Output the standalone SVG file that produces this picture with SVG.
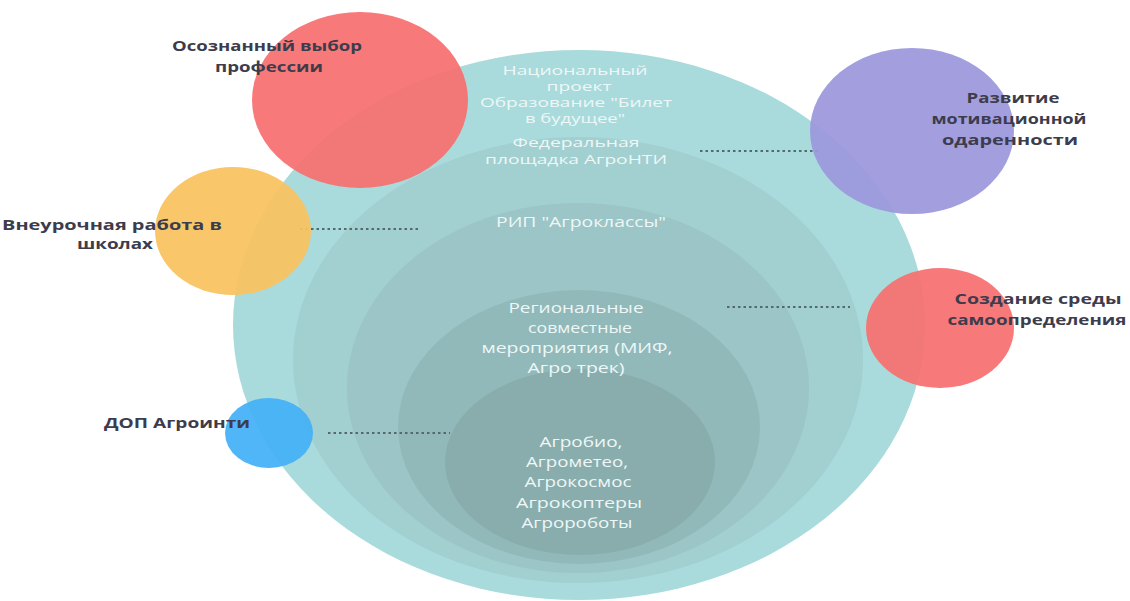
<svg xmlns="http://www.w3.org/2000/svg" width="1130" height="601" viewBox="0 0 1130 601">
<style>
.lbl{font-family:"Open Sans","Noto Sans","Liberation Sans",sans-serif;font-weight:700;font-size:14px;fill:#3c3c4c;text-anchor:middle}
.in{font-family:"Open Sans","Noto Sans","Liberation Sans",sans-serif;font-size:14px;fill:#eef7f7;text-anchor:middle}
.in13{font-size:12.5px}
.in15{font-size:15px}
.dot{fill:none;stroke:#55696a;stroke-width:2;stroke-dasharray:2.5 3}
</style>
<rect width="1130" height="601" fill="#ffffff"/>
<g id="layers">
<ellipse id="layer1" cx="579" cy="325" rx="346" ry="275" fill="#a9dbdc"/>
<ellipse id="layer2" cx="578" cy="360" rx="285" ry="223" fill="#a2cfd0"/>
<ellipse id="layer3" cx="578" cy="388" rx="231" ry="185" fill="#9bc5c6"/>
<ellipse id="layer4" cx="579" cy="427" rx="181" ry="137" fill="#92b9ba"/>
<ellipse id="layer5" cx="580" cy="462" rx="135" ry="93" fill="#89adad"/>
</g>
<g id="layer-texts">
<text class="in in13" x="575" y="75" textLength="145" lengthAdjust="spacingAndGlyphs">Национальный</text>
<text class="in in13" x="579" y="91" textLength="65" lengthAdjust="spacingAndGlyphs">проект</text>
<text class="in in13" x="576" y="107" textLength="192" lengthAdjust="spacingAndGlyphs">Образование "Билет</text>
<text class="in in13" x="575" y="123" textLength="100" lengthAdjust="spacingAndGlyphs">в будущее"</text>
<text class="in in13" x="576" y="147" textLength="127" lengthAdjust="spacingAndGlyphs">Федеральная</text>
<text class="in in13" x="576" y="164" textLength="182" lengthAdjust="spacingAndGlyphs">площадка АгроНТИ</text>
<text class="in" x="581" y="227" textLength="170" lengthAdjust="spacingAndGlyphs">РИП "Агроклассы"</text>
<text class="in in15" x="576" y="313" textLength="135" lengthAdjust="spacingAndGlyphs">Региональные</text>
<text class="in in15" x="580" y="333" textLength="104" lengthAdjust="spacingAndGlyphs">совместные</text>
<text class="in in15" x="577" y="353" textLength="191" lengthAdjust="spacingAndGlyphs">мероприятия (МИФ,</text>
<text class="in in15" x="576" y="373" textLength="97" lengthAdjust="spacingAndGlyphs">Агро трек)</text>
<text class="in in15" x="581" y="447" textLength="83" lengthAdjust="spacingAndGlyphs">Агробио,</text>
<text class="in in15" x="577" y="467" textLength="102" lengthAdjust="spacingAndGlyphs">Агрометео,</text>
<text class="in in15" x="578" y="487" textLength="107" lengthAdjust="spacingAndGlyphs">Агрокосмос</text>
<text class="in in15" x="579" y="508" textLength="126" lengthAdjust="spacingAndGlyphs">Агрокоптеры</text>
<text class="in in15" x="577" y="528" textLength="111" lengthAdjust="spacingAndGlyphs">Агророботы</text>
</g>
<g id="connectors">
<line class="dot" x1="700" y1="151" x2="818" y2="151"/>
<line class="dot" x1="300" y1="229" x2="420" y2="229"/>
<line class="dot" x1="727" y1="307" x2="850" y2="307"/>
<line class="dot" x1="328" y1="433" x2="450" y2="433"/>
</g>
<g id="node-vybor">
<ellipse cx="360" cy="100" rx="108" ry="88" fill="#f86f6f" fill-opacity="0.93"/>
<text class="lbl" x="267" y="51" textLength="190" lengthAdjust="spacingAndGlyphs">Осознанный выбор</text>
<text class="lbl" x="269" y="72" textLength="108" lengthAdjust="spacingAndGlyphs">профессии</text>
</g>
<g id="node-vneurochnaya">
<ellipse cx="233" cy="231" rx="78" ry="64" fill="#f9c35f" fill-opacity="0.93"/>
<text class="lbl" x="112" y="230" textLength="220" lengthAdjust="spacingAndGlyphs">Внеурочная работа в</text>
<text class="lbl" x="115" y="249" textLength="76" lengthAdjust="spacingAndGlyphs">школах</text>
</g>
<g id="node-motivation">
<ellipse cx="912" cy="131" rx="102" ry="83" fill="#9c98dd" fill-opacity="0.93"/>
<text class="lbl" x="1013" y="103" textLength="93" lengthAdjust="spacingAndGlyphs">Развитие</text>
<text class="lbl" x="1009" y="124" textLength="155" lengthAdjust="spacingAndGlyphs">мотивационной</text>
<text class="lbl" x="1010" y="145" textLength="136" lengthAdjust="spacingAndGlyphs">одаренности</text>
</g>
<g id="node-sreda">
<ellipse cx="940" cy="328" rx="74" ry="60" fill="#f86f6f" fill-opacity="0.93"/>
<text class="lbl" x="1038" y="304" textLength="167" lengthAdjust="spacingAndGlyphs">Создание  среды</text>
<text class="lbl" x="1037" y="325" textLength="179" lengthAdjust="spacingAndGlyphs">самоопределения</text>
</g>
<g id="node-dop">
<ellipse cx="269" cy="433" rx="44" ry="35" fill="#44b0f6" fill-opacity="0.93"/>
<text class="lbl" x="177" y="428" textLength="146" lengthAdjust="spacingAndGlyphs">ДОП Агроинти</text>
</g>
</svg>
